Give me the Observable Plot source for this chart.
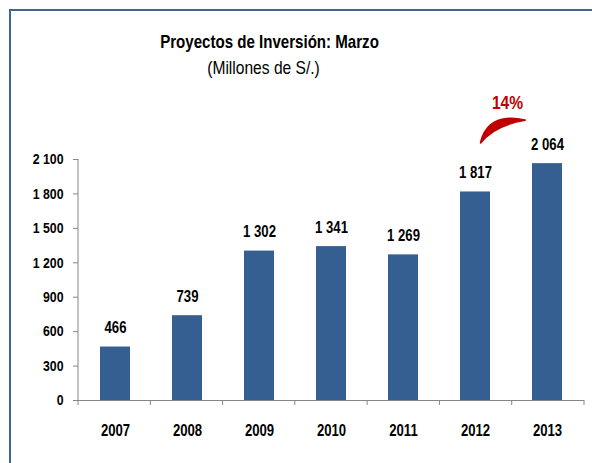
<!DOCTYPE html>
<html>
<head>
<meta charset="utf-8">
<script src="https://cdn.jsdelivr.net/npm/d3@7"></script>
<script src="https://cdn.jsdelivr.net/npm/@observablehq/plot@0.6"></script>
<style>
  html, body { margin: 0; padding: 0; background: #fff; }
  #wrap { position: relative; width: 592px; height: 463px; overflow: hidden;
          font-family: "Liberation Sans", Arial, sans-serif; }
  #border { position: absolute; left: 9px; top: 9px; width: 800px; height: 800px;
            border-top: 2px solid #3d6596; border-left: 2px solid #3d6596; }
  #chart { position: absolute; left: 0; top: 0; }
  .title { position: absolute; left: 0; text-align: center; color: #000; white-space: nowrap;
           transform: scaleX(0.82); transform-origin: center; }
  #t1 { top: 31px; width: 539px; font-size: 18.4px; line-height: 22px; font-weight: bold; }
  #t2 { top: 57px; width: 527px; font-size: 19px; line-height: 22px; }
</style>
</head>
<body>
<div id="wrap">
  <div id="border"></div>
  <div id="chart"></div>
  <div class="title" id="t1">Proyectos de Inversión: Marzo</div>
  <div class="title" id="t2">(Millones de S/.)</div>
</div>
<script>
const years = ["2007", "2008", "2009", "2010", "2011", "2012", "2013"];
const values = [466, 739, 1302, 1341, 1269, 1817, 2064];
const yTicks = [0, 300, 600, 900, 1200, 1500, 1800, 2100];
const growthLabel = "14%";

const barColor = "#365f91";
const axisGray = "#868686";
const red = "#c00000";
const font = '"Liberation Sans", Arial, sans-serif';
const narrow = 0.82; // horizontal compression to mimic the narrow original typeface

const data = years.map((y, i) => ({year: y, value: values[i]}));
const fmt = d => d3.format(",")(d).replace(/,/g, "\u00a0");

function decor(index, scales, channels, dims) {
  const {marginLeft: ml, marginRight: mr, width: w} = dims;
  const n = years.length, step = (w - ml - mr) / n;
  const y = scales.y;
  const y0 = y(0);
  const g = d3.create("svg:g");
  g.append("line")
    .attr("x1", ml).attr("x2", ml)
    .attr("y1", y(yTicks[yTicks.length - 1])).attr("y2", y0 + 5)
    .attr("stroke", axisGray);
  for (let i = 1; i <= n; i++) {
    g.append("line")
      .attr("x1", ml + i * step).attr("x2", ml + i * step)
      .attr("y1", y0).attr("y2", y0 + 5)
      .attr("stroke", axisGray);
  }
  const k = years.length - 1;
  const bx = ml + k * step, by = y(values[k]);
  const S = [bx - 31, by - 20.4], E = [bx + 13.3, by - 43];
  const Cu = [bx - 23.7, by - 51], Cl = [bx - 17.7, by - 38];
  g.append("path")
    .attr("d", `M${S}Q${Cu} ${E}Q${Cl} ${S}Z`)
    .attr("fill", red).attr("stroke", red)
    .attr("stroke-width", 2).attr("stroke-linejoin", "round");
  return g.node();
}

const chart = Plot.plot({
  width: 592,
  height: 463,
  marginLeft: 78,
  marginRight: 8,
  marginTop: 159,
  marginBottom: 63,
  style: {fontFamily: font, background: "transparent", color: "#000", overflow: "visible"},
  x: {domain: years, padding: 0},
  y: {domain: [0, 2100]},
  marks: [
    Plot.barY(data, {x: "year", y: "value", fill: barColor, insetLeft: 21, insetRight: 21}),
    Plot.ruleY([0], {stroke: axisGray}),
    Plot.axisY({ticks: yTicks, tickSize: 5, tickPadding: 10, stroke: axisGray,
                tickFormat: fmt, fontSize: 15, fontWeight: "bold", label: null}),
    Plot.axisX({tickSize: 0, tickPadding: 24, fontSize: 16, fontWeight: "bold", label: null}),
    Plot.text(data, {x: "year", y: "value", text: d => fmt(d.value), dy: -19,
                     fontSize: 16, fontWeight: "bold", fill: "#000"}),
    Plot.text([{year: years[years.length - 1], value: values[values.length - 1], label: growthLabel}],
              {x: "year", y: "value", text: "label", dx: -40, dy: -61,
               fontSize: 19, fontWeight: "bold", fill: red}),
    decor
  ]
});
document.getElementById("chart").appendChild(chart);

// condense all chart text horizontally (keeps anchors in place)
chart.querySelectorAll("text").forEach(t => {
  const spans = t.querySelectorAll("tspan");
  const targets = spans.length ? Array.from(spans) : [t];
  targets.forEach(el => {
    const len = el.getComputedTextLength();
    if (len > 0) {
      el.setAttribute("textLength", (len * narrow).toFixed(2));
      el.setAttribute("lengthAdjust", "spacingAndGlyphs");
    }
  });
});
</script>
</body>
</html>
